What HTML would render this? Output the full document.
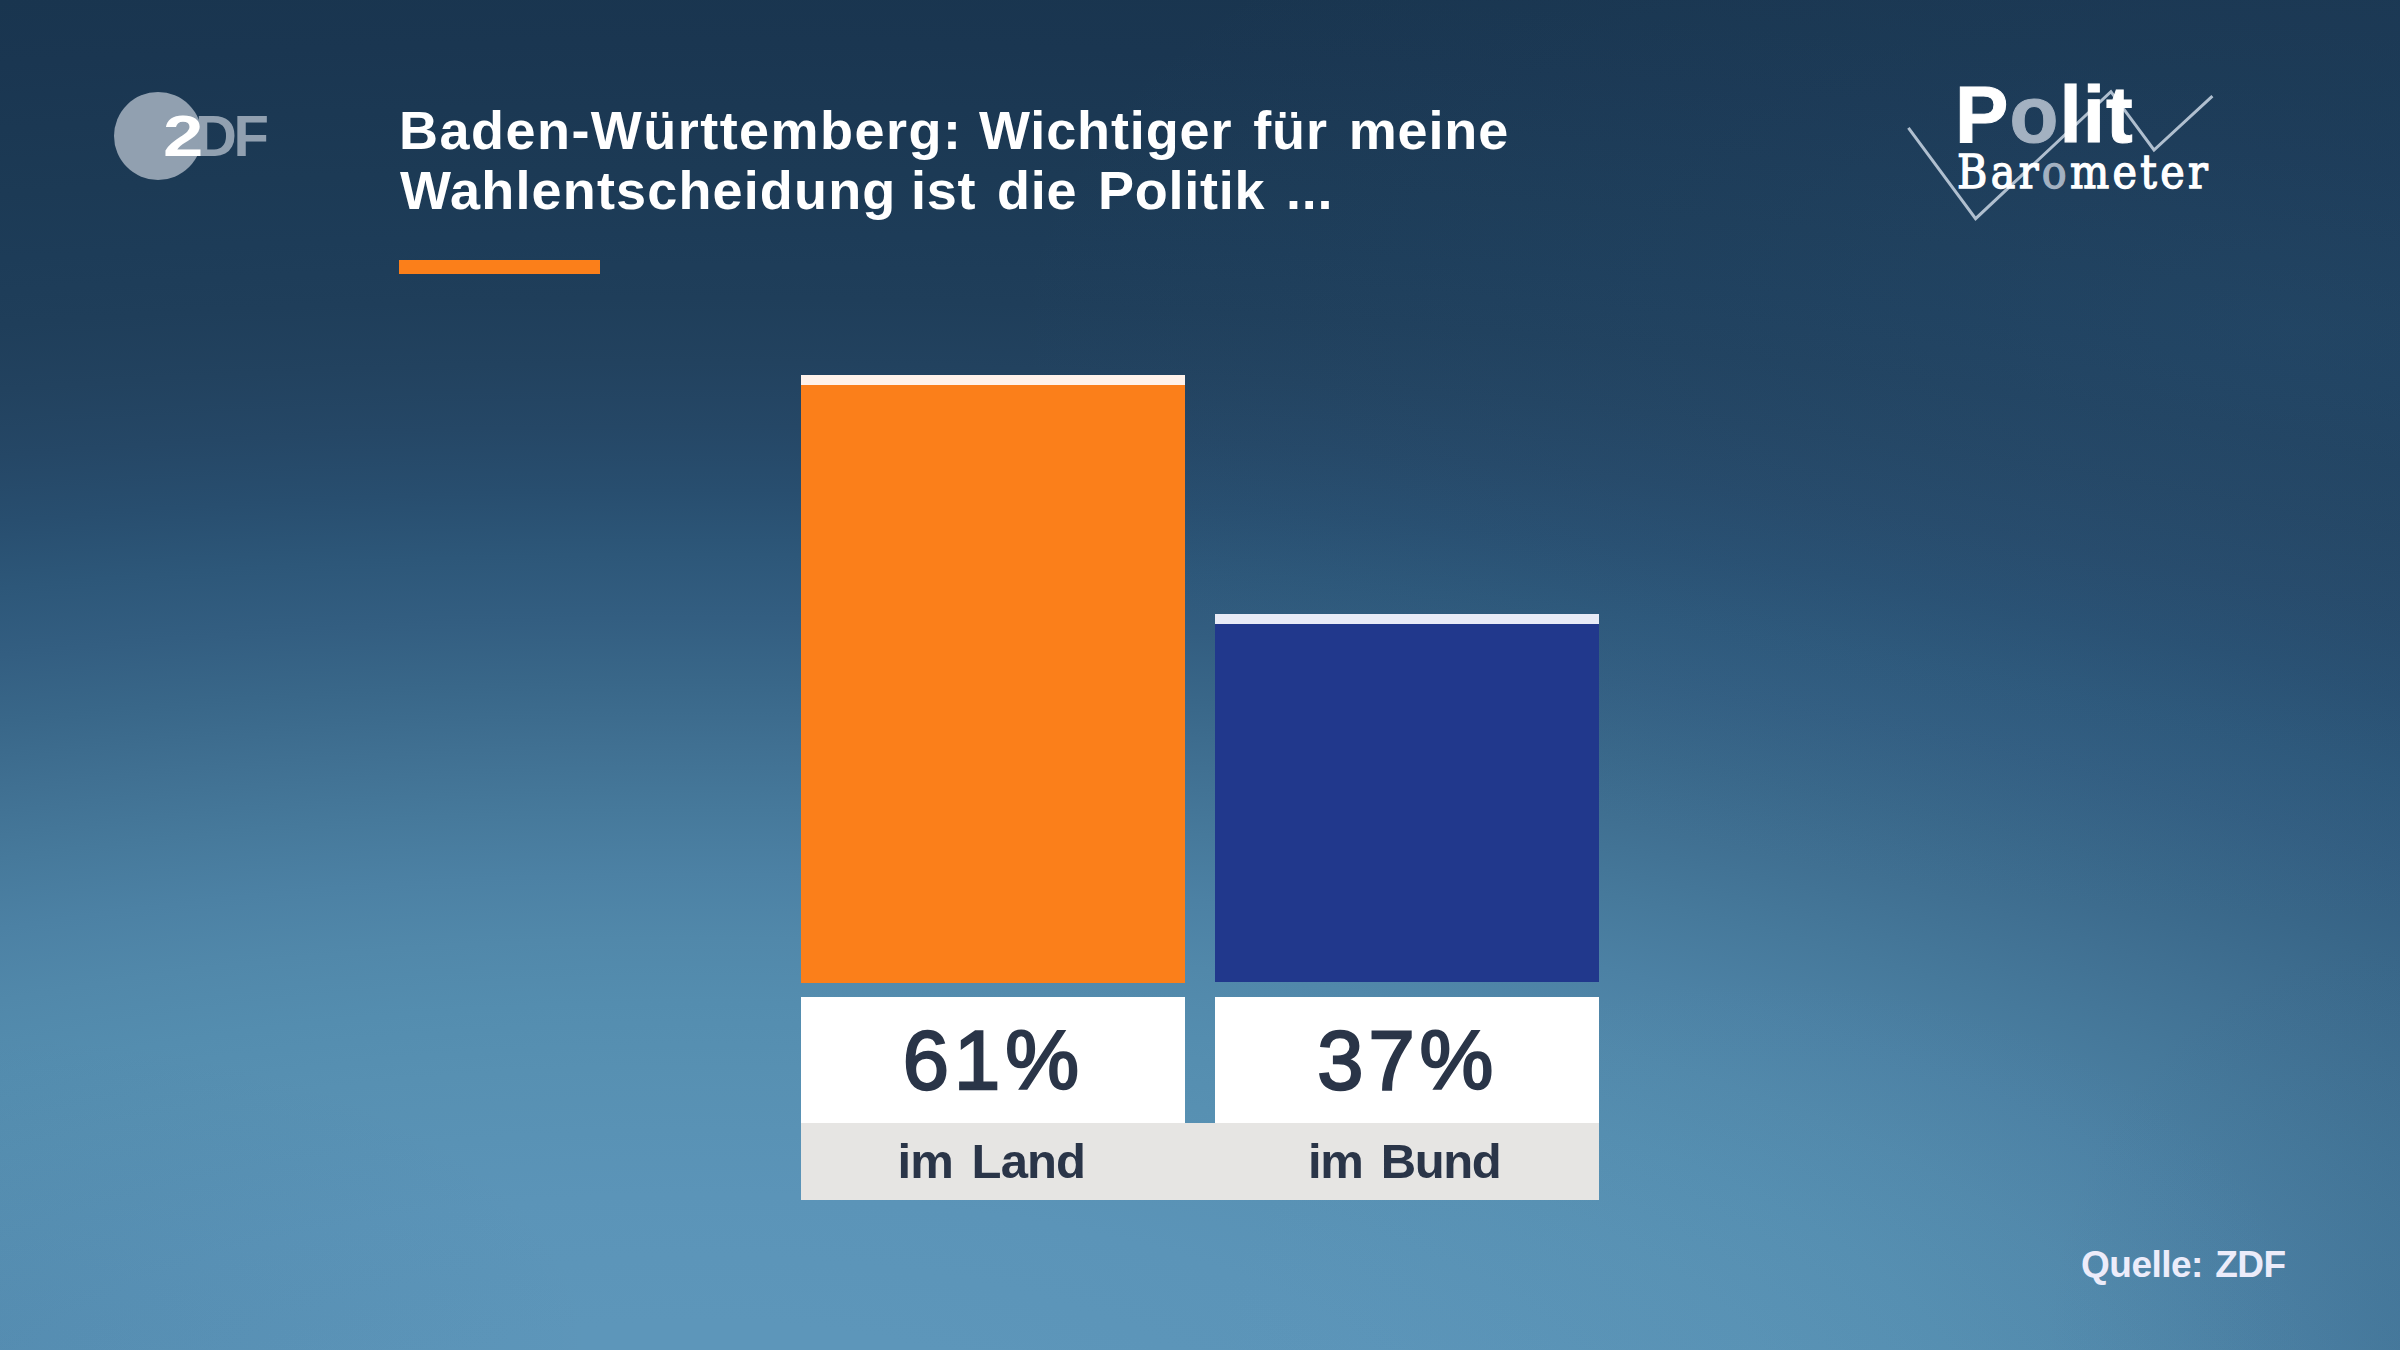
<!DOCTYPE html>
<html lang="de">
<head>
<meta charset="utf-8">
<title>Baden-Württemberg: Wichtiger für meine Wahlentscheidung ist die Politik ...</title>
<style>
html,body{margin:0;padding:0;background:#2d5779;}
body{width:2400px;height:1350px;overflow:hidden;}
#stage{
  width:2400px;height:1350px;overflow:hidden;position:relative;
  font-family:"Liberation Sans",sans-serif;
  background:
    radial-gradient(ellipse 1300px 600px at 2300px 330px,rgba(80,150,210,0.11) 0%,rgba(80,150,210,0) 100%),
    radial-gradient(ellipse 560px 380px at 1760px 1350px,rgba(110,170,210,0.10) 0%,rgba(110,170,210,0) 100%),
    radial-gradient(ellipse 360px 420px at 2400px 1350px,rgba(30,70,110,0.10) 0%,rgba(30,70,110,0) 100%),
    radial-gradient(ellipse 600px 320px at 0px 1350px,rgba(30,70,110,0.09) 0%,rgba(30,70,110,0) 100%),
    radial-gradient(ellipse 4571px 1600px at 700px 1450px,#5e97bb 0%,#5d96ba 4%,#5d96ba 8%,#5c95b9 12%,#5b94b8 16%,#5992b5 20%,#5790b2 24%,#548daf 28%,#5188aa 32%,#4c81a4 36%,#46799b 40%,#407092 44%,#396789 48%,#335e81 52%,#2d5779 56%,#284e6f 60%,#254766 64%,#22425f 68%,#1f3e5a 72%,#1d3c58 76%,#1c3a55 80%,#1b3853 84%,#1a3651 88%,#19354f 92%,#19344e 96%,#19344d 100%);
}
.abs{position:absolute;white-space:nowrap;line-height:1;}

/* ZDF logo */
#zdf{position:absolute;left:0;top:0;}
#zdf .disc{position:absolute;left:113.9px;top:91.9px;width:88.4px;height:88.4px;border-radius:50%;background:#91a0b0;}
#zdf .z{left:162.6px;top:107px;font-size:58px;font-weight:700;color:#fff;transform-origin:0 0;transform:scaleX(1.25);}
#zdf .df{left:195px;top:107px;font-size:58px;font-weight:700;color:#91a0b0;letter-spacing:-3.4px;}

/* Title */
#t1,#t2{left:399px;font-size:54px;font-weight:700;color:#fff;letter-spacing:1.04px;word-spacing:5px;}
#t1{top:103px;letter-spacing:0.87px;}
#t1 .w1{letter-spacing:1.47px;margin-right:-4.4px;}
#t2 .w2{letter-spacing:1.15px;margin-right:-6.3px;}
#t2{top:163px;left:400px;letter-spacing:0.75px;}
#rule{position:absolute;left:399px;top:260px;width:201px;height:13.5px;background:#fb7f1a;}

/* Politbarometer */
#pb-svg{position:absolute;left:1880px;top:60px;}
#polit{left:1955px;top:75px;font-size:80px;font-weight:700;color:#fff;letter-spacing:1.1px;-webkit-text-stroke:1px;}
#polit i,#baro i{font-style:normal;color:#a3b1c1;}
#baro{left:1957px;top:148px;font-family:"DejaVu Serif","Liberation Serif",serif;font-size:47px;color:#fff;letter-spacing:3.75px;-webkit-text-stroke:1.4px;transform-origin:0 0;transform:scaleX(0.88);}

/* Chart */
.bar{position:absolute;}
#b1{left:801px;top:375px;width:383.6px;height:607.5px;background:#fb7f1a;}
#b1 .cap{position:absolute;left:0;top:0;width:100%;height:10px;background:#fff2ea;}
#b2{left:1214.8px;top:613.8px;width:384.2px;height:368.7px;background:#21388c;}
#b2 .cap{position:absolute;left:0;top:0;width:100%;height:10px;background:#e8ebf7;}
.val{position:absolute;top:997px;width:384px;height:125.5px;background:#fff;}
#v1{left:801px;}#v2{left:1215px;}
#lab{position:absolute;left:801px;top:1122.5px;width:798px;height:77.5px;background:#e6e5e3;}
.num{font-size:83px;font-weight:400;color:#2a3548;-webkit-text-stroke:2.4px #2a3548;letter-spacing:5px;text-align:center;width:384px;}
.txt{font-size:49px;font-weight:700;color:#2a3548;letter-spacing:-0.9px;word-spacing:6px;text-align:center;width:384px;}
#n1{left:801.4px;top:1019.3px;}#n2{left:1215.8px;top:1019.3px;}
#l1{left:799.3px;top:1137px;}#l2{left:1212.2px;top:1137px;letter-spacing:-1.35px;}

#src{left:2081px;top:1246.2px;font-size:37px;font-weight:700;color:#ececfa;letter-spacing:-0.5px;word-spacing:2.5px;}
</style>
</head>
<body>
<div id="stage">
<div id="zdf" aria-label="ZDF">
  <div class="disc"></div>
  <span class="abs df">DF</span>
  <span class="abs z">2</span>
</div>

<div class="abs" id="t1"><span class="w1">Baden-Württemberg:</span> Wichtiger für meine</div>
<div class="abs" id="t2"><span class="w2">Wahlentscheidung</span> ist die Politik ...</div>
<div id="rule"></div>

<svg id="pb-svg" width="400" height="200" viewBox="1880 60 400 200" aria-hidden="true">
  <polyline points="1908.4,127.8 1975.6,218.7 2110.9,91.7 2154,150 2212.4,96.1" fill="none" stroke="#b0bfcf" stroke-width="3" stroke-linejoin="miter" stroke-linecap="butt"/>
</svg>
<div class="abs" id="polit">P<i>o</i>lit</div>
<div class="abs" id="baro">Bar<i>o</i>meter</div>

<div class="bar" id="b1"><div class="cap"></div></div>
<div class="bar" id="b2"><div class="cap"></div></div>
<div class="val" id="v1"></div>
<div class="val" id="v2"></div>
<div id="lab"></div>
<div class="abs num" id="n1">61%</div>
<div class="abs num" id="n2">37%</div>
<div class="abs txt" id="l1">im Land</div>
<div class="abs txt" id="l2">im Bund</div>

<div class="abs" id="src">Quelle: ZDF</div>
</div>
</body>
</html>
